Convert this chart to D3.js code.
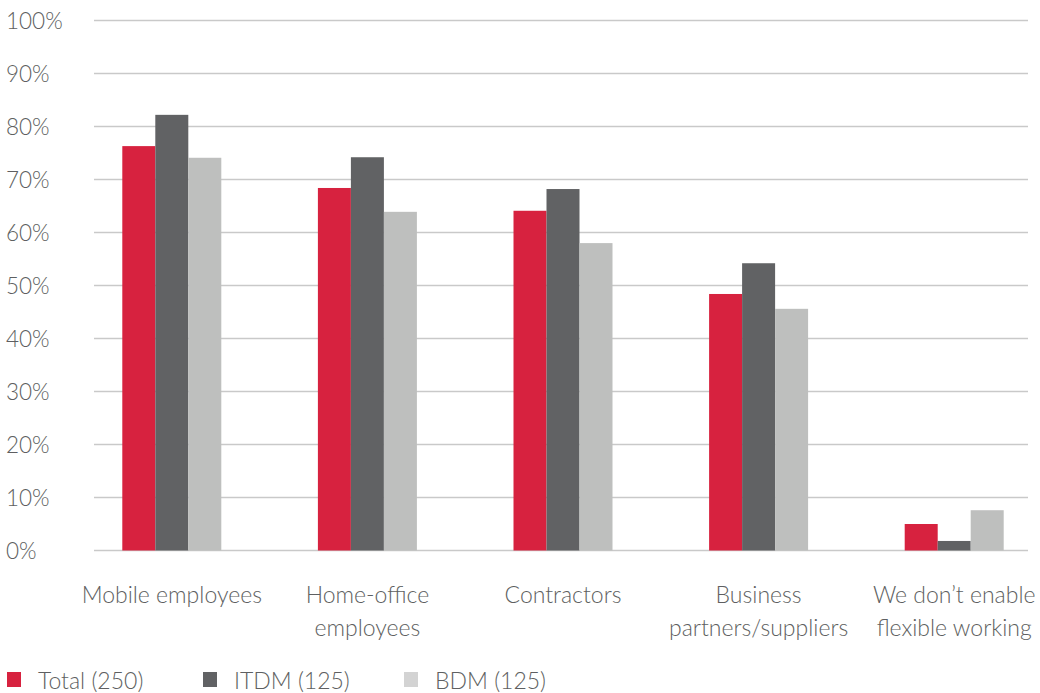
<!DOCTYPE html>
<html>
<head>
<meta charset="utf-8">
<script src="https://cdn.jsdelivr.net/npm/d3@7"></script>
<style>
  html, body { margin: 0; padding: 0; background: #fff; }
  svg text { font-family: Lato, "Open Sans", sans-serif; font-weight: 300; fill: #5e5f61; }
</style>
</head>
<body>
<svg id="chart" width="1040" height="693"></svg>
<script>
// Survey categories and percentages by respondent group
const categories = [
  ["Mobile employees"],
  ["Home-office", "employees"],
  ["Contractors"],
  ["Business", "partners/suppliers"],
  ["We don\u2019t enable", "flexible working"]
];
const seriesNames = ["Total (250)", "ITDM (125)", "BDM (125)"];
const totalValues = [76.3, 68.4, 64.1, 48.4, 5.0];
const itdmValues  = [82.2, 74.2, 68.2, 54.2, 1.8];
const bdmValues   = [74.1, 63.9, 58.0, 45.6, 7.6];
const yTicks = [0, 10, 20, 30, 40, 50, 60, 70, 80, 90, 100];

const colors = ["#d7223f", "#616264", "#bebfbe"];
const legendColors = ["#d7223f", "#616264", "#d3d3d3"];
const seriesValues = [totalValues, itdmValues, bdmValues];

const svg = d3.select("#chart");

const y = d3.scaleLinear().domain([0, 100]).range([550.5, 20.5]);
const x0 = d3.scaleBand().domain(d3.range(categories.length)).range([74, 1052]).paddingInner(0).paddingOuter(0);
const x1 = d3.scaleBand().domain(d3.range(seriesNames.length)).range([0, 99]).padding(0);
const groupOffset = (x0.bandwidth() - 99) / 2;

// Horizontal gridlines
svg.append("g")
  .selectAll("line")
  .data(yTicks)
  .join("line")
  .attr("x1", 94).attr("x2", 1028)
  .attr("y1", d => y(d)).attr("y2", d => y(d))
  .attr("stroke", "#c9c9c9")
  .attr("stroke-width", 1.5);

// Y axis labels
svg.append("g")
  .selectAll("text")
  .data(yTicks)
  .join("text")
  .attr("x", 6)
  .attr("y", d => y(d) + 8)
  .attr("font-size", 22.5)
  .text(d => d + "%");

// Bars
const groups = svg.append("g")
  .selectAll("g")
  .data(categories.map((c, i) => i))
  .join("g")
  .attr("transform", i => `translate(${x0(i) + groupOffset},0)`);

groups.selectAll("rect")
  .data(i => seriesValues.map((vals, s) => ({ s, v: vals[i] })))
  .join("rect")
  .attr("x", d => x1(d.s))
  .attr("width", x1.bandwidth())
  .attr("y", d => y(d.v))
  .attr("height", d => y(0) - y(d.v))
  .attr("fill", d => colors[d.s]);

// Category labels
const labels = svg.append("g")
  .selectAll("text")
  .data(categories)
  .join("text")
  .attr("text-anchor", "middle")
  .attr("font-size", 23)
  .attr("x", (d, i) => x0(i) + x0.bandwidth() / 2)
  .attr("y", 603);
labels.selectAll("tspan")
  .data(d => d)
  .join("tspan")
  .attr("x", function () { return d3.select(this.parentNode).attr("x"); })
  .attr("dy", (d, j) => j === 0 ? 0 : 33)
  .text(d => d);

// Legend
const legendX = [7, 203, 404];
const legend = svg.append("g")
  .selectAll("g")
  .data(seriesNames)
  .join("g")
  .attr("transform", (d, i) => `translate(${legendX[i]},672)`);
legend.append("rect")
  .attr("width", 14).attr("height", 15)
  .attr("fill", (d, i) => legendColors[i]);
legend.append("text")
  .attr("x", 31).attr("y", 17)
  .attr("font-size", 23)
  .text(d => d);
</script>
</body>
</html>
